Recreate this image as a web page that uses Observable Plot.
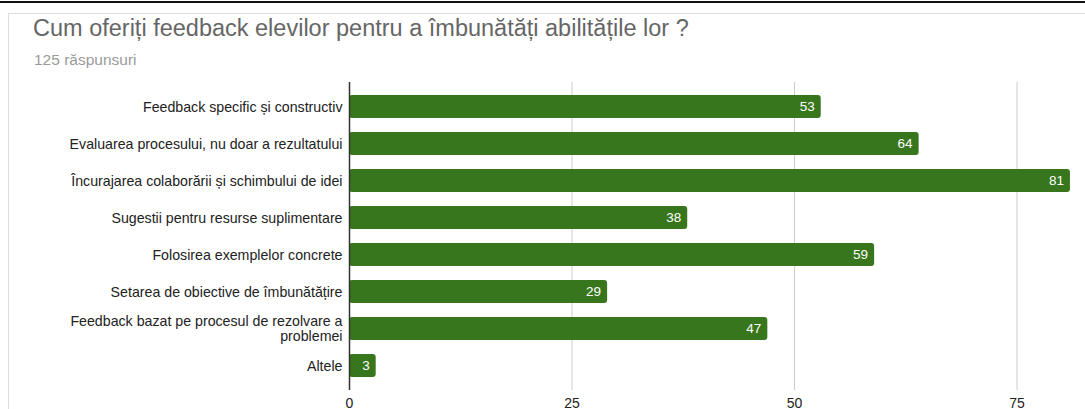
<!DOCTYPE html>
<html>
<head>
<meta charset="utf-8">
<script src="https://cdn.jsdelivr.net/npm/d3@7"></script>
<script src="https://cdn.jsdelivr.net/npm/@observablehq/plot@0.6"></script>
<style>
  html, body { margin: 0; padding: 0; background: #fff; }
  #wrap { position: relative; width: 1085px; height: 409px; overflow: hidden; background: #fff;
          font-family: Arial, "Liberation Sans", sans-serif; }
  #topline { position: absolute; left: 0; top: 1px; width: 1085px; height: 2px; background: #111; }
  #card { position: absolute; left: 8px; top: 13px; width: 1100px; height: 420px; border: 1px solid #dadce0; box-sizing: border-box; }
  #header { position: relative; height: 70px; }
  #title { position: absolute; left: 33px; top: 16.8px; font-size: 23.5px; line-height: 23.5px; color: #666; white-space: nowrap; }
  #subtitle { position: absolute; left: 34px; top: 52px; font-size: 15.5px; line-height: 15.5px; color: #9a9a9a; white-space: nowrap; }
  #chart { position: relative; }
</style>
</head>
<body>
<div id="wrap">
  <div id="topline"></div>
  <div id="card"></div>
  <div id="header">
    <div id="title"></div>
    <div id="subtitle"></div>
  </div>
  <div id="chart"></div>
</div>
<script>
const titleText = "Cum oferiți feedback elevilor pentru a îmbunătăți abilitățile lor ?";
const subtitleText = "125 răspunsuri";

const categories = [
  "Feedback specific și constructiv",
  "Evaluarea procesului, nu doar a rezultatului",
  "Încurajarea colaborării și schimbului de idei",
  "Sugestii pentru resurse suplimentare",
  "Folosirea exemplelor concrete",
  "Setarea de obiective de îmbunătățire",
  "Feedback bazat pe procesul de rezolvare a\nproblemei",
  "Altele"
];
const values = [53, 64, 81, 38, 59, 29, 47, 3];
const xTicks = [0, 25, 50, 75];

document.getElementById("title").textContent = titleText;
document.getElementById("subtitle").textContent = subtitleText;

const data = categories.map((c, i) => ({cat: c, value: values[i]}));

const chart = Plot.plot({
  width: 1085,
  height: 339,
  marginLeft: 349,
  marginRight: 10.6,
  marginTop: 12,
  marginBottom: 19,
  style: {fontFamily: 'Arial, "Liberation Sans", sans-serif', background: "transparent", overflow: "visible"},
  x: {domain: [0, 81.5], axis: null},
  y: {domain: categories, paddingInner: 0.366, paddingOuter: 0.34, axis: null},
  marks: [
    Plot.gridX(xTicks.filter(d => d !== 0), {stroke: "#cccccc", strokeOpacity: 1, strokeWidth: 1}),
    Plot.barX(data, {x: "value", y: "cat", fill: "#38761d", rx: 3}),
    Plot.ruleX([0], {stroke: "#333", strokeWidth: 1.5}),
    Plot.text(data, {x: "value", y: "cat", text: d => String(d.value), dx: -6.5, textAnchor: "end", fill: "#ffffff", fontSize: 13.5}),
    Plot.axisY({tickSize: 0, tickPadding: 7, fontSize: 14.2, color: "#222", label: null}),
    Plot.axisX(xTicks, {tickSize: 0, tickPadding: 8, fontSize: 14, color: "#222", label: null})
  ]
});
document.getElementById("chart").appendChild(chart);
</script>
</body>
</html>
